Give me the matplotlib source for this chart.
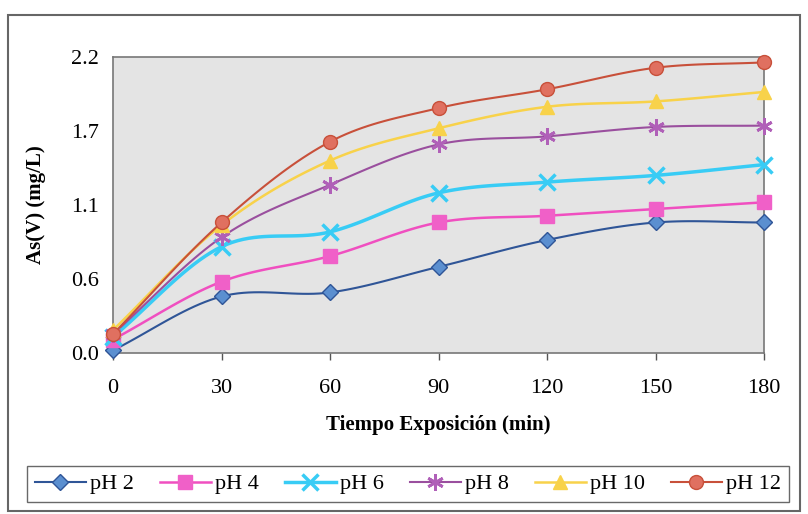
import numpy as np
import matplotlib.pyplot as plt
from matplotlib.patches import Rectangle

tiempo = [0, 30, 60, 90, 120, 150, 180]
ph2 = [0.02, 0.42, 0.45, 0.64, 0.84, 0.97, 0.97]
ph4 = [0.10, 0.53, 0.72, 0.97, 1.02, 1.07, 1.12]
ph6 = [0.12, 0.79, 0.90, 1.19, 1.27, 1.32, 1.40]
ph8 = [0.14, 0.86, 1.25, 1.55, 1.61, 1.68, 1.69]
ph10 = [0.17, 0.95, 1.43, 1.67, 1.83, 1.87, 1.94]
ph12 = [0.14, 0.97, 1.57, 1.82, 1.96, 2.12, 2.16]
etiquetas = ["pH 2", "pH 4", "pH 6", "pH 8", "pH 10", "pH 12"]
yticks = [0.0, 0.55, 1.1, 1.65, 2.2]
ytick_labels = ["0.0", "0.6", "1.1", "1.7", "2.2"]


def suavizar(x, y, n=20):
    # curva tipo Catmull-Rom como las lineas suavizadas de Excel
    x = np.asarray(x, float)
    y = np.asarray(y, float)
    px = np.concatenate([[2 * x[0] - x[1]], x, [2 * x[-1] - x[-2]]])
    py = np.concatenate([[2 * y[0] - y[1]], y, [2 * y[-1] - y[-2]]])
    xs, ys = [], []
    t = np.linspace(0, 1, n, endpoint=False)
    for i in range(1, len(px) - 2):
        for p, out in ((px, xs), (py, ys)):
            p0, p1, p2, p3 = p[i - 1], p[i], p[i + 1], p[i + 2]
            out.extend(0.5 * (2 * p1 + (-p0 + p2) * t
                              + (2 * p0 - 5 * p1 + 4 * p2 - p3) * t ** 2
                              + (-p0 + 3 * p1 - 3 * p2 + p3) * t ** 3))
    xs.append(x[-1])
    ys.append(y[-1])
    return xs, ys


plt.rcParams['font.family'] = ['Liberation Serif', 'DejaVu Serif']

estilos = [
    dict(color="#2f5597", marker="D", mfc="#5b8fd0", mec="#2f5597", ms=8, lw=1.5),
    dict(color="#f04fc0", marker="s", mfc="#f060c8", mec="#f060c8", ms=10, lw=1.8),
    dict(color="#38ccf5", marker="x", mfc="#38ccf5", mec="#38ccf5", ms=11, mew=2.5, lw=2.5),
    dict(color="#9a4f9e", marker=(6, 2, 0), mfc="#b060b8", mec="#b060b8", ms=12, mew=2, lw=1.5),
    dict(color="#f8d24a", marker="^", mfc="#f8d24a", mec="#f8d24a", ms=10, lw=1.8),
    dict(color="#c8503a", marker="o", mfc="#e07060", mec="#c8503a", ms=10, lw=1.5),
]
series = [ph2, ph4, ph6, ph8, ph10, ph12]

fig = plt.figure(figsize=(8.08, 5.14), dpi=100)
ax = fig.add_axes([113 / 808, 1 - 353 / 514, 651 / 808, 296 / 514])
ax.set_facecolor("#e4e4e4")

handles = []
for datos, est, lab in zip(series, estilos, etiquetas):
    xs, ys = suavizar(tiempo, datos)
    ax.plot(xs, ys, color=est["color"], lw=est["lw"], zorder=2)
    ax.plot(tiempo, datos, ls="none", marker=est["marker"], ms=est["ms"],
            mfc=est["mfc"], mec=est["mec"], mew=est.get("mew", 1), zorder=3,
            clip_on=False)
    h, = ax.plot([], [], color=est["color"], lw=est["lw"], marker=est["marker"],
                 ms=est["ms"], mfc=est["mfc"], mec=est["mec"], mew=est.get("mew", 1))
    handles.append(h)

ax.set_xlim(0, 180)
ax.set_ylim(0, 2.2)
ax.set_xticks(tiempo)
ax.set_yticks(yticks)
ax.set_yticklabels(ytick_labels)
ax.tick_params(axis="x", length=5, width=1, colors="#555555", labelcolor="black",
               labelsize=16, pad=14)
ax.tick_params(axis="y", length=0, labelsize=16, pad=10)
for s in ax.spines.values():
    s.set_color("#777777")
    s.set_linewidth(1.2)

ax.set_xlabel("Tiempo Exposición (min)", fontsize=15, fontweight="bold", labelpad=12)
ax.set_ylabel("As(V) (mg/L)", fontsize=15, fontweight="bold", labelpad=18)

fig.legend(handles, etiquetas, loc="center", bbox_to_anchor=(408 / 808, 1 - 484 / 514),
           ncol=6, fontsize=16, frameon=True, fancybox=False, edgecolor="#444444",
           handlelength=2.3, columnspacing=1.15, handletextpad=0.2, borderpad=0.35,
           borderaxespad=0)

fig.patches.append(Rectangle((8 / 808, 3 / 514), 792 / 808, 496 / 514,
                             transform=fig.transFigure, fill=False,
                             edgecolor="#666666", lw=1.5))

plt.savefig("out.png", dpi=100)
